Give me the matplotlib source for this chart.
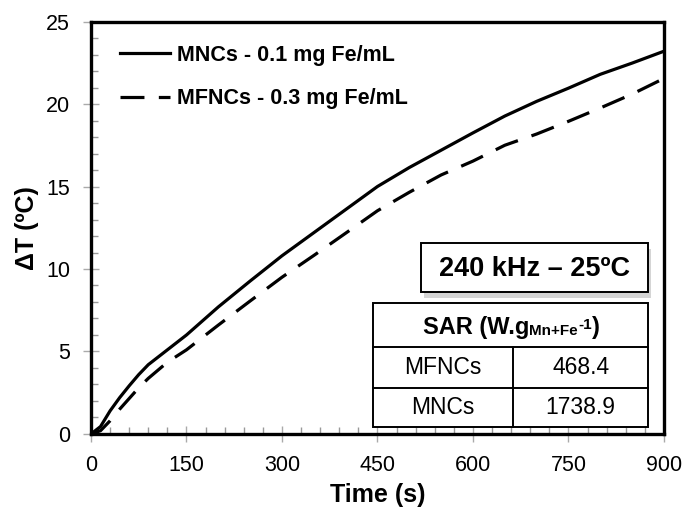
import matplotlib
matplotlib.use("Agg")
import matplotlib.pyplot as plt
from matplotlib.patches import Rectangle
from matplotlib.ticker import MultipleLocator

plt.rcParams['font.family'] = ['Liberation Sans', 'DejaVu Sans']

### data
time_s = [0, 15, 30, 45, 60, 75, 90, 120, 150, 200, 250, 300, 350, 400, 450,
          500, 550, 600, 650, 700, 750, 800, 850, 900]
mncs = [0, 0.45, 1.4, 2.2, 2.92, 3.6, 4.2, 5.1, 6.0, 7.7, 9.27, 10.8, 12.2,
        13.6, 15.0, 16.15, 17.2, 18.25, 19.27, 20.16, 20.96, 21.8, 22.48, 23.2]
mfncs = [0, 0.2, 0.8, 1.5, 2.15, 2.8, 3.37, 4.35, 5.1, 6.6, 8.06, 9.5, 10.82,
         12.17, 13.53, 14.65, 15.7, 16.54, 17.5, 18.18, 18.95, 19.76, 20.6, 21.55]
sar_names = ["MFNCs", "MNCs"]
sar_values = ["468.4", "1738.9"]

fig = plt.figure(figsize=(6.84, 5.11), dpi=100)
ax = fig.add_axes([0.133, 0.1507, 0.8377, 0.8072])

ax.plot(time_s, mncs, color='black', lw=2.3, label='MNCs - 0.1 mg Fe/mL')
ax.plot(time_s, mfncs, color='black', lw=2.3, dashes=(7.5, 4.5),
        label='MFNCs - 0.3 mg Fe/mL')

ax.set_xlim(0, 900)
ax.set_ylim(0, 25)
ax.xaxis.set_major_locator(MultipleLocator(150))
ax.xaxis.set_minor_locator(MultipleLocator(30))
ax.yaxis.set_major_locator(MultipleLocator(5))
ax.yaxis.set_minor_locator(MultipleLocator(1))
ax.tick_params(which='major', direction='inout', length=12, width=1,
               color='#aaaaaa', labelsize=15.5, pad=9)
ax.tick_params(which='minor', direction='in', length=5, width=1,
               color='#999999')
for sp in ax.spines.values():
    sp.set_linewidth(2.4)

ax.set_xlabel('Time (s)', fontsize=18, fontweight='bold', labelpad=5)
ax.set_ylabel('ΔT (ºC)', fontsize=18, fontweight='bold', labelpad=5)

leg = ax.legend(loc='upper left', bbox_to_anchor=(0.035, 0.965), frameon=False,
                prop={'weight': 'bold', 'size': 15.5}, handlelength=2.35,
                handletextpad=0.3, labelspacing=1.05, borderaxespad=0)

# condition box with a soft shadow
ax.add_patch(Rectangle((0.581, 0.330), 0.397, 0.119, transform=ax.transAxes,
                       facecolor='#d5d5d5', edgecolor='none', zorder=4))
ax.add_patch(Rectangle((0.5754, 0.3435), 0.3972, 0.119, transform=ax.transAxes,
                       facecolor='white', edgecolor='black', lw=1.4, zorder=5))
ax.text(0.774, 0.401, '240 kHz – 25ºC', transform=ax.transAxes,
        ha='center', va='center', fontsize=19.5, fontweight='bold', zorder=6)

# SAR table
tx0, tx1, tx2 = 0.492, 0.7365, 0.9726
ty = [0.3168, 0.2102, 0.1108, 0.0177]
ax.add_patch(Rectangle((tx0, ty[3]), tx2 - tx0, ty[0] - ty[3],
                       transform=ax.transAxes, facecolor='white',
                       edgecolor='black', lw=1.4, zorder=5))
for y in ty[1:3]:
    ax.plot([tx0, tx2], [y, y], transform=ax.transAxes, color='black',
            lw=1.4, zorder=6)
ax.plot([tx1, tx1], [ty[1], ty[3]], transform=ax.transAxes, color='black',
        lw=1.4, zorder=6)

# header SAR (W.g_Mn+Fe ^-1) built from pieces
h1 = ax.text(0.5795, 0.2417, 'SAR (W.g', transform=ax.transAxes, ha='left',
             va='baseline', fontsize=17, fontweight='bold', zorder=7)
h2 = ax.annotate('Mn+Fe', xy=(1, 0), xycoords=h1, xytext=(0, 1),
                 textcoords='offset points', ha='left', va='bottom',
                 fontsize=11, fontweight='bold', zorder=7)
h3 = ax.annotate('-1', xy=(1, 1), xycoords=(h2, h1), xytext=(0, -1),
                 textcoords='offset points', ha='left', va='top',
                 fontsize=11, fontweight='bold', zorder=7)
ax.annotate(')', xy=(1, 0), xycoords=(h3, h1), ha='left', va='bottom',
            fontsize=17, fontweight='bold', zorder=7)

for i in range(len(sar_names)):
    yc = (ty[i + 1] + ty[i + 2]) / 2
    ax.text((tx0 + tx1) / 2, yc, sar_names[i], transform=ax.transAxes,
            ha='center', va='center', fontsize=16.5, zorder=7)
    ax.text((tx1 + tx2) / 2, yc, sar_values[i], transform=ax.transAxes,
            ha='center', va='center', fontsize=16.5, zorder=7)

fig.savefig('out.png', dpi=100)
